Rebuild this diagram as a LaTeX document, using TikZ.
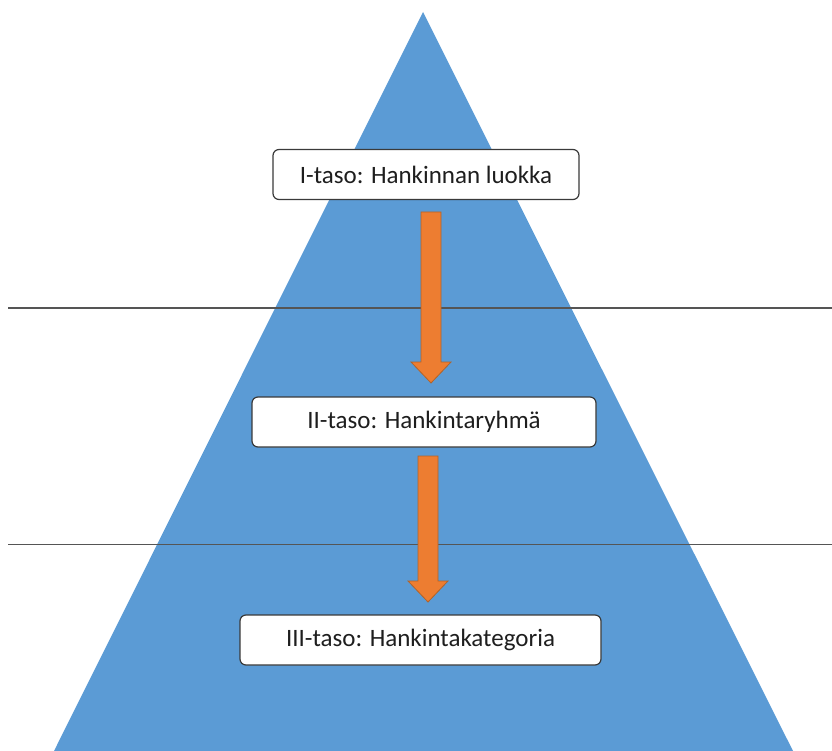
\documentclass[tikz,border=0pt]{standalone}
\usepackage{fontspec}
\setmainfont{Carlito}
\definecolor{pyrblue}{HTML}{5B9BD5}
\definecolor{arrorange}{HTML}{ED7D31}
\definecolor{arrborder}{HTML}{B0632A}
\definecolor{boxborder}{HTML}{3A3A3A}
\definecolor{txtgray}{HTML}{1E1E1E}
\definecolor{linegray}{HTML}{555555}
\tikzset{
  levelbox/.style={draw=boxborder, line width=1.2pt, fill=white, rounded corners=6pt,
    inner sep=0pt, minimum height=50pt, text=txtgray, font=\fontsize{25}{29}\selectfont},
  sepline/.style={draw=linegray, line width=1.3pt},
  blockarr/.style={fill=arrorange, draw=arrborder, line width=0.8pt, line join=miter}
}
\newcommand{\mkblockarrow}[3]{% x, top y, tip y
  \draw[blockarr] (#1-10,#2) -- (#1+10,#2) -- (#1+10,#3-21) -- (#1+20,#3-21) -- (#1,#3)
    -- (#1-20,#3-21) -- (#1-10,#3-21) -- cycle;}
\begin{document}
\begin{tikzpicture}[x=1pt,y=-1pt]
\useasboundingbox (0,0) rectangle (832,751);
\fill[pyrblue] (423,12) -- (793,751) -- (54,751) -- cycle;
\draw[sepline] (8,308) -- (832,308);
\draw[sepline] (8,544.5) -- (832,544.5);
\node[levelbox, minimum width=306pt] (l1) at (426,174.5) {I-taso: Hankinnan luokka};
\node[levelbox, minimum width=344pt] (l2) at (424,422) {II-taso: Hankintaryhmä};
\node[levelbox, minimum width=361pt] (l3) at (420.5,640) {III-taso: Hankintakategoria};
\mkblockarrow{431}{212}{383}
\mkblockarrow{428}{456}{602}
\end{tikzpicture}
\end{document}
